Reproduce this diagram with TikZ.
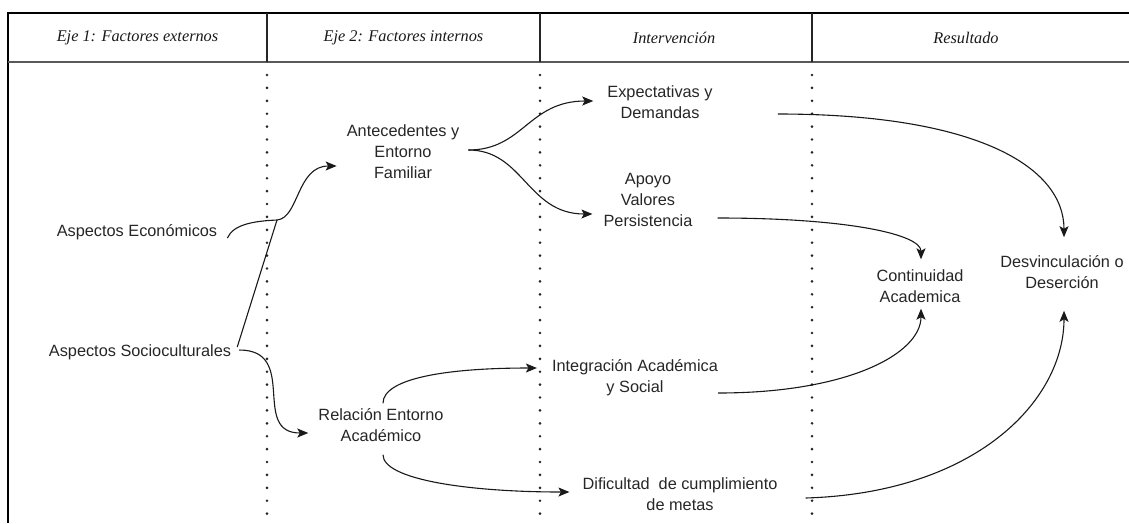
\documentclass[tikz,border=0pt]{standalone}
\usepackage{fontspec}
\setmainfont{Liberation Sans}
\newfontfamily\hdrfont{Liberation Serif}
\usetikzlibrary{arrows.meta}
\begin{document}
\begin{tikzpicture}[x=1pt,y=-1pt,
  lbl/.style={font=\fontsize{16.3}{21}\selectfont, align=center, inner sep=2pt, text=black!85},
  hdr/.style={font=\hdrfont\itshape\fontsize{16.3}{19}\selectfont, inner sep=0pt, text=black!90},
  conn/.style={line width=1.1pt, black!90, -{Stealth[length=11pt,width=9pt,inset=2.5pt]}},
  plainln/.style={line width=1.1pt, black!90},
  sepline/.style={line width=2.9pt, line cap=round, dash pattern=on 0pt off 12.9pt, black!85},
  frameln/.style={line width=1.4pt, black},
  hdrline/.style={line width=1.8pt, black!65}]

\useasboundingbox (0,0) rectangle (1129,523);

% frame and header
\draw[frameln] (8,523) -- (8,13) -- (1129,13);
\draw[hdrline] (8,62) -- (1129,62);
\foreach \xx in {267,540,812} {
  \draw[line width=1.1pt, black!85] (\xx,13) -- (\xx,62);
  \draw[sepline] (\xx,75) -- (\xx,523);
}
\node[hdr] (h1) at (137.5,38) {Eje 1: Factores externos};
\node[hdr] (h2) at (403.5,38) {Eje 2: Factores internos};
\node[hdr] (h3) at (674,38) {Intervención};
\node[hdr] (h4) at (966,38) {Resultado};

% nodes
\node[lbl] (eco) at (137,232) {Aspectos Económicos};
\node[lbl] (soc) at (140,352) {Aspectos Socioculturales};
\node[lbl] (ant) at (403,152) {Antecedentes y\\Entorno\\Familiar};
\node[lbl] (rel) at (381,425) {Relación Entorno\\Académico};
\node[lbl] (exp) at (660,102) {Expectativas y\\Demandas};
\node[lbl] (apo) at (648,200) {Apoyo\\Valores\\Persistencia};
\node[lbl] (int) at (635,378) {Integración Académica\\y Social};
\node[lbl] (dif) at (680,494) {Dificultad\ \ de cumplimiento\\de metas};
\node[lbl] (con) at (920,286) {Continuidad\\Academica};
\node[lbl] (des) at (1062,272) {Desvinculación o\\Deserción};

\coordinate (j1) at (277,220);

% connectors
\draw[plainln] ([shift={(8,6)}]eco.east) .. controls +(6,-14) and +(-22,1) .. (j1);
\draw[plainln] ([shift={(4,-5)}]soc.east) -- (j1);
\draw[conn] (j1) .. controls +(22,-2) and +(-40,0) .. ([shift={(-8,14)}]ant.west);
\draw[conn] ([shift={(6,-2)}]soc.east) .. controls +(60,0) and +(-58,0) .. ([shift={(-8,8)}]rel.west);

\draw[conn] ([shift={(7,-2)}]ant.east) .. controls +(55,0) and +(-65,0) .. ([shift={(-12,-1)}]exp.west);
\draw[conn] ([shift={(7,-2)}]ant.east) .. controls +(55,0) and +(-65,0) .. ([shift={(-9,14)}]apo.west);

\draw[conn] ([shift={(2,-3)}]rel.north) .. controls +(0,-25) and +(-90,0) .. ([shift={(-13,-10)}]int.west);
\draw[conn] ([shift={(2,11)}]rel.south) .. controls +(0,25) and +(-100,0) .. ([shift={(-11,-2)}]dif.west);

\draw[conn] ([shift={(63,12)}]exp.east) .. controls +(200,0) and +(0,-70) .. ([shift={(2,-16)}]des.north);
\draw[conn] ([shift={(23,18)}]apo.east) .. controls +(130,0) and +(0,-25) .. ([shift={(1,-8)}]con.north);
\draw[conn] ([shift={(-2,15)}]int.east) .. controls +(130,0) and +(0,45) .. ([shift={(1,4)}]con.south);
\draw[conn] ([shift={(26,4)}]dif.east) .. controls +(170,-5) and +(0,90) .. ([shift={(2,20)}]des.south);
\end{tikzpicture}
\end{document}
